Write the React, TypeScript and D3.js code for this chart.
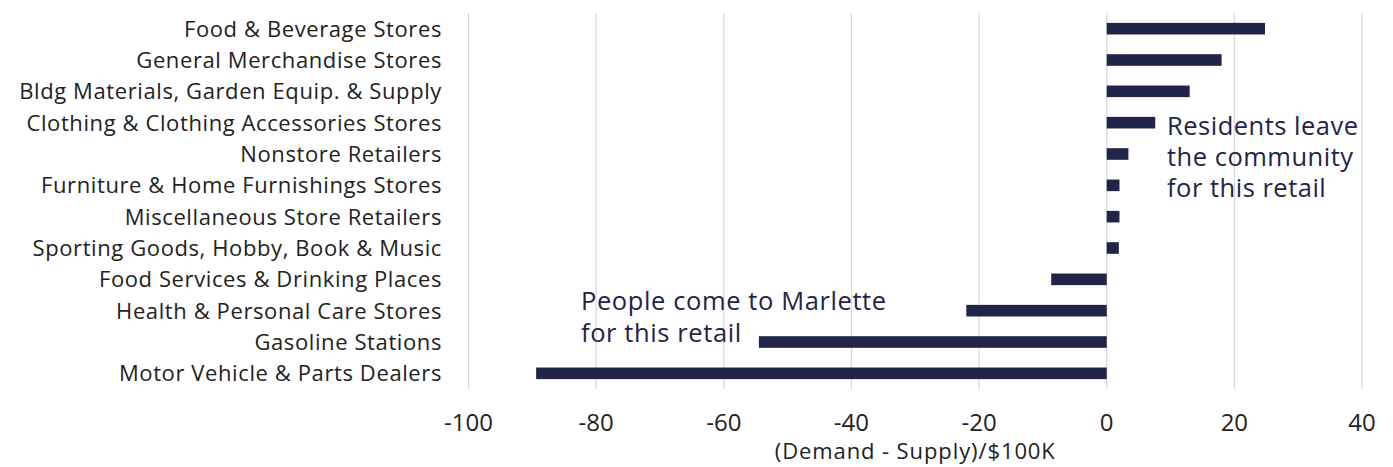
import React from "react";
import * as d3 from "d3";

const categories: string[] = [
  "Food & Beverage Stores",
  "General Merchandise Stores",
  "Bldg Materials, Garden Equip. & Supply",
  "Clothing & Clothing Accessories Stores",
  "Nonstore Retailers",
  "Furniture & Home Furnishings Stores",
  "Miscellaneous Store Retailers",
  "Sporting Goods, Hobby, Book & Music",
  "Food Services & Drinking Places",
  "Health & Personal Care Stores",
  "Gasoline Stations",
  "Motor Vehicle & Parts Dealers",
];

const values: number[] = [24.8, 18, 13, 7.6, 3.4, 2.0, 2.0, 1.9, -8.7, -22, -54.5, -89.4];

const xTicks: number[] = [-100, -80, -60, -40, -20, 0, 20, 40];

const axisTitle = "(Demand - Supply)/$100K";
const noteRight: string[] = ["Residents leave", "the community", "for this retail"];
const noteLeft: string[] = ["People come to Marlette", "for this retail"];

const W = 1393;
const H = 467;
const FONT = "'Open Sans', 'Noto Sans', sans-serif";
const NAVY = "#1F2448";

export default function App() {
  const x = d3.scaleLinear().domain([-100, 40]).range([468.5, 1362]);
  const y = d3
    .scaleBand<string>()
    .domain(categories)
    .range([13, 389])
    .paddingInner(0.63)
    .paddingOuter(0.315);

  const plotTop = 13;
  const plotBottom = 389;

  return (
    <svg
      width={W}
      height={H}
      style={{ position: "absolute", left: 0, top: 0, background: "#fff" }}
      fontFamily={FONT}
    >
      {xTicks.map((t) => (
        <line
          key={"g" + t}
          x1={x(t)}
          x2={x(t)}
          y1={plotTop}
          y2={plotBottom}
          stroke="#D9D9D9"
          strokeWidth={1.3}
        />
      ))}
      {categories.map((c, i) => {
        const v = values[i];
        const x0 = x(Math.min(0, v));
        const x1 = x(Math.max(0, v));
        return (
          <rect
            key={c}
            x={x0}
            y={y(c)!}
            width={x1 - x0}
            height={y.bandwidth()}
            fill={NAVY}
          />
        );
      })}
      {categories.map((c) => (
        <text
          key={"l" + c}
          x={442}
          y={y(c)! + y.bandwidth() / 2}
          dy="0.36em"
          textAnchor="end"
          fontSize={22}
          letterSpacing={0.6}
          fill="#222"
        >
          {c}
        </text>
      ))}
      {xTicks.map((t) => (
        <text
          key={"t" + t}
          x={x(t)}
          y={431}
          textAnchor="middle"
          fontSize={24}
          fill="#222"
        >
          {t}
        </text>
      ))}
      <text
        x={(x(-100) + x(40)) / 2}
        y={459}
        textAnchor="middle"
        fontSize={22}
        letterSpacing={0.9}
        fill="#222"
      >
        {axisTitle}
      </text>
      <text x={1167} y={135} fontSize={25.5} letterSpacing={0.5} fill={NAVY}>
        {noteRight.map((s, i) => (
          <tspan key={"r" + i} x={1167} dy={i === 0 ? 0 : 31}>
            {s}
          </tspan>
        ))}
      </text>
      <text x={581} y={310} fontSize={25.5} letterSpacing={0.6} fill={NAVY}>
        {noteLeft.map((s, i) => (
          <tspan key={"p" + i} x={581} dy={i === 0 ? 0 : 31.7}>
            {s}
          </tspan>
        ))}
      </text>
    </svg>
  );
}
